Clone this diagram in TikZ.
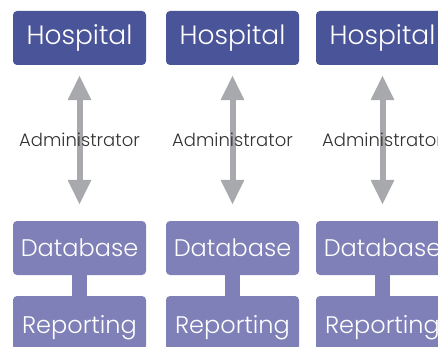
\documentclass[tikz,border=0pt]{standalone}
\usepackage{fontspec}
\setmainfont{Poppins}[UprightFont={* Light}]
\usetikzlibrary{arrows.meta}
\definecolor{hospblue}{HTML}{4A5499}
\definecolor{dbblue}{HTML}{7F80B8}
\definecolor{arrgray}{HTML}{A7A9AC}
\definecolor{txtdark}{HTML}{333333}
\tikzset{
  hospbox/.style={fill=hospblue, text=white, rounded corners=4pt, minimum width=133pt, minimum height=54pt, inner sep=0pt, font=\fontsize{26.5}{30}\selectfont},
  dbbox/.style={fill=dbblue, text=white, rounded corners=4pt, minimum width=133pt, minimum height=54pt, inner sep=0pt, font=\fontsize{24}{28}\selectfont},
  twoway/.style={draw=arrgray, line width=6pt, {Triangle[width=22pt,length=25pt]}-{Triangle[width=22pt,length=25pt]}, shorten <=10pt, shorten >=16pt},
  link/.style={draw=dbblue, line width=15pt},
  adminlbl/.style={text=txtdark, font=\fontsize{18}{20}\selectfont, inner sep=0pt}
}
\begin{document}
\begin{tikzpicture}[x=1pt,y=1pt]
\useasboundingbox (0,0) rectangle (438,346);
\clip (0,0) rectangle (438,346);
\foreach \i/\cx in {1/79.5, 2/232.5, 3/382.5}{
  \node[hospbox] (h\i) at (\cx,308) {Hospital};
  \node[dbbox] (d\i) at (\cx,98) {Database};
  \node[dbbox, text depth=0pt, text height=15pt] (r\i) at (\cx,23) {\raisebox{-3pt}{Reporting}};
  \draw[link] (d\i.south) -- (r\i.north);
  \draw[twoway] (h\i.south) -- (d\i.north) node[midway, adminlbl, yshift=3pt] (a\i) {Administrator};
}
\end{tikzpicture}
\end{document}
